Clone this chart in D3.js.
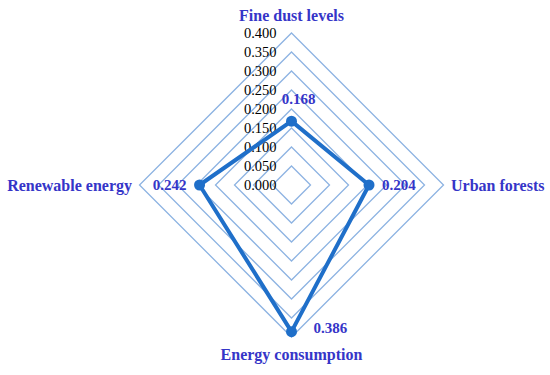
<!DOCTYPE html>
<html>
<head>
<meta charset="utf-8">
<script src="https://cdn.jsdelivr.net/npm/d3@7"></script>
<style>
  body { margin: 0; background: #fff; }
  svg { display: block; }
</style>
</head>
<body>
<div id="chart"></div>
<script>
const categories = ["Fine dust levels", "Urban forests", "Energy consumption", "Renewable energy"];
const values = [0.168, 0.204, 0.386, 0.242];
const ticks = [0, 0.05, 0.1, 0.15, 0.2, 0.25, 0.3, 0.35, 0.4];

const width = 550;
const height = 375;
const cx = 291.5, cy = 185;
const radius = 152;

const r = d3.scaleLinear().domain([0, 0.4]).range([0, radius]);
const angle = i => i * Math.PI / 2; // clockwise from top

const pt = (i, v) => [cx + r(v) * Math.sin(angle(i)), cy - r(v) * Math.cos(angle(i))];

const svg = d3.select("#chart")
  .append("svg")
  .attr("width", width)
  .attr("height", height);

const line = d3.line().curve(d3.curveLinearClosed);

// grid rings
svg.append("g")
  .selectAll("path")
  .data(ticks.slice(1))
  .enter()
  .append("path")
  .attr("d", t => line(categories.map((c, i) => pt(i, t))))
  .attr("fill", "none")
  .attr("stroke", "#8db3e2")
  .attr("stroke-width", 1.3);

// tick labels
svg.append("g")
  .selectAll("text")
  .data(ticks)
  .enter()
  .append("text")
  .attr("x", cx - 15)
  .attr("y", t => cy - r(t))
  .attr("dy", "0.35em")
  .attr("text-anchor", "end")
  .style("font-family", "'Liberation Serif', serif")
  .style("font-size", "14.5px")
  .style("fill", "#000")
  .text(d3.format(".3f"));

// data polygon
const blue = "#1f6fc9";
svg.append("path")
  .attr("d", line(values.map((v, i) => pt(i, v))))
  .attr("fill", "none")
  .attr("stroke", blue)
  .attr("stroke-width", 4)
  .attr("stroke-linejoin", "round");

svg.append("g")
  .selectAll("circle")
  .data(values)
  .enter()
  .append("circle")
  .attr("cx", (v, i) => pt(i, v)[0])
  .attr("cy", (v, i) => pt(i, v)[1])
  .attr("r", 5.5)
  .attr("fill", blue);

// value labels
const labelColor = "#3535c8";
const valOffsets = [[7, -22, "middle"], [13, 0, "start"], [22, -4, "start"], [-13, 0, "end"]];
svg.append("g")
  .selectAll("text")
  .data(values)
  .enter()
  .append("text")
  .attr("x", (v, i) => pt(i, v)[0] + valOffsets[i][0])
  .attr("y", (v, i) => pt(i, v)[1] + valOffsets[i][1])
  .attr("dy", "0.35em")
  .attr("text-anchor", (v, i) => valOffsets[i][2])
  .style("font-family", "'Liberation Serif', serif")
  .style("font-size", "15px")
  .style("font-weight", "bold")
  .style("fill", labelColor)
  .text(d3.format(".3f"));

// category labels
const catPos = [[cx, 15, "middle"], [451, cy, "start"], [cx, 354, "middle"], [132, cy, "end"]];
svg.append("g")
  .selectAll("text")
  .data(categories)
  .enter()
  .append("text")
  .attr("x", (c, i) => catPos[i][0])
  .attr("y", (c, i) => catPos[i][1])
  .attr("dy", "0.35em")
  .attr("text-anchor", (c, i) => catPos[i][2])
  .style("font-family", "'Liberation Serif', serif")
  .style("font-size", "16px")
  .style("font-weight", "bold")
  .style("fill", labelColor)
  .text(c => c);
</script>
</body>
</html>
